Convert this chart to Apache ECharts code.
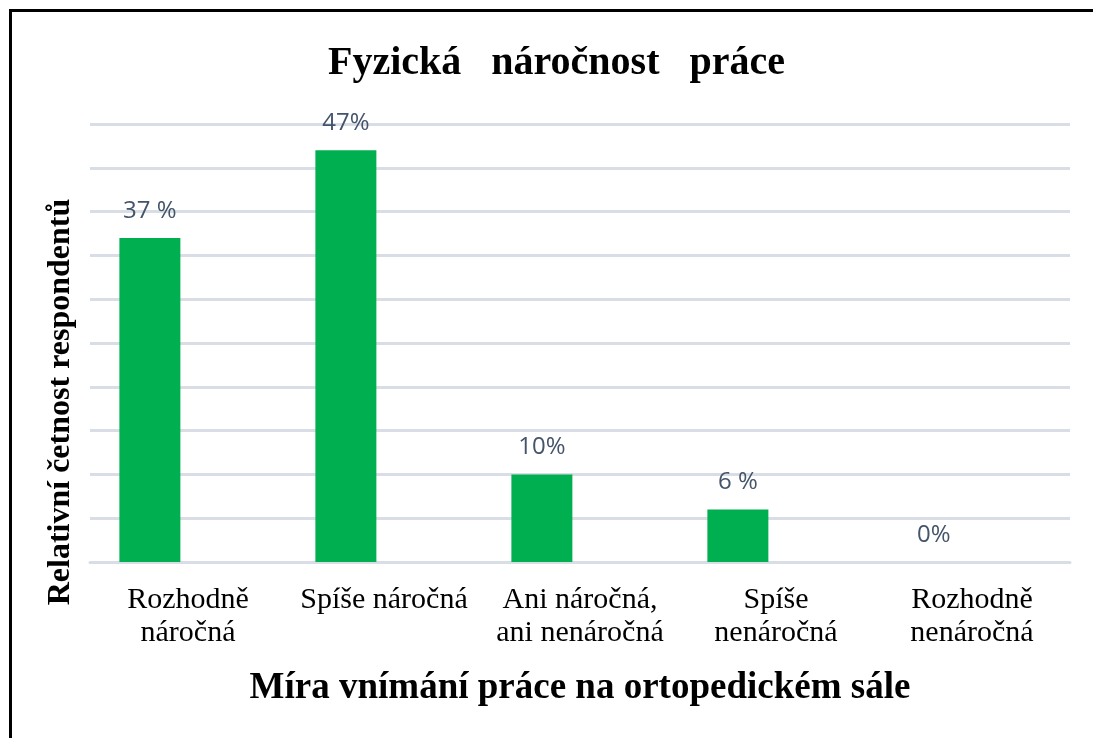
<!DOCTYPE html>
<html>
<head>
<meta charset="utf-8">
<script src="https://cdn.jsdelivr.net/npm/echarts@6/dist/echarts.min.js"></script>
<style>
  html, body { margin: 0; padding: 0; background: #fff; }
  #chart { position: absolute; left: 0; top: 0; width: 1093px; height: 738px; }
  #frame { position: absolute; left: 9px; top: 9px; width: 1100px; height: 740px;
           border-top: 3px solid #000; border-left: 3px solid #000; pointer-events: none; }
</style>
</head>
<body>
<div id="chart"></div>
<div id="frame"></div>
<script>
var categories = ['Rozhodně\nnáročná', 'Spíše náročná', 'Ani náročná,\nani nenáročná', 'Spíše\nnenáročná', 'Rozhodně\nnenáročná'];
var values = [37, 47, 10, 6, 0];
var valueLabels = ['37 %', '47%', '10%', '6 %', '0%'];
var emptySeries = [null, null, null, null, null]; // druhá (prázdná) řada jako v Excelu

var serif = '"Liberation Serif", "Times New Roman", serif';

var chart = echarts.init(document.getElementById('chart'));
chart.setOption({
    animation: false,
    title: {
        text: 'Fyzická   náročnost   práce',
        left: 328,
        top: 44,
        padding: 0,
        textStyle: { fontFamily: serif, fontWeight: 'bold', fontSize: 40, color: '#000' }
    },
    grid: { left: 90, right: 23, top: 124, bottom: 176 },
    xAxis: {
        type: 'category',
        data: categories,
        name: 'Míra vnímání práce na ortopedickém sále',
        nameLocation: 'middle',
        nameGap: 108,
        nameTextStyle: { fontFamily: serif, fontWeight: 'bold', fontSize: 37, color: '#000' },
        axisLine: { lineStyle: { color: '#d9dde5', width: 3 } },
        axisTick: { show: false },
        axisLabel: { interval: 0, fontFamily: serif, fontSize: 30, color: '#000', lineHeight: 33, margin: 22 }
    },
    yAxis: {
        type: 'value',
        min: 0,
        max: 50,
        interval: 5,
        name: 'Relativní četnost respondentů',
        nameLocation: 'middle',
        nameGap: 13,
        nameTextStyle: { fontFamily: serif, fontWeight: 'bold', fontSize: 32, color: '#000', padding: [0, 118, 0, 0] },
        axisLabel: { show: false },
        axisLine: { show: false },
        axisTick: { show: false },
        splitLine: { lineStyle: { color: '#d9dde5', width: 3 } }
    },
    series: [{
        type: 'bar',
        data: values,
        barWidth: 61,
        barGap: '25%',
        itemStyle: { color: '#00b050' },
        label: {
            show: true,
            position: 'top',
            distance: 15,
            fontFamily: '"Open Sans", "Noto Sans", sans-serif',
            fontSize: 24,
            color: '#44546a',
            formatter: function (p) { return valueLabels[p.dataIndex]; }
        }
    }, {
        type: 'bar',
        data: emptySeries,
        barWidth: 61
    }]
});
</script>
</body>
</html>
